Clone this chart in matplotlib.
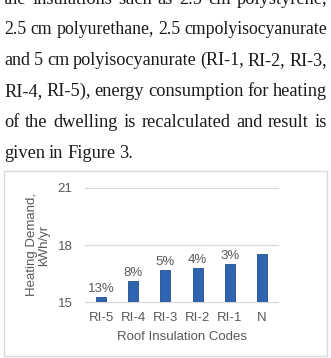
import numpy as np
import matplotlib
matplotlib.use("Agg")
from matplotlib import pyplot as plt
from matplotlib.patches import Rectangle

# chart data
codes = ['RI-5', 'RI-4', 'RI-3', 'RI-2', 'RI-1', 'N']
demand = [15.28, 16.12, 16.68, 16.80, 17.00, 17.55]
savings = ['13%', '8%', '5%', '4%', '3%', '']
yticks = [15, 18, 21]

# paragraph above the figure
para = ["the insulations such as 2.5 cm polystyrene,",
        "2.5 cm polyurethane, 2.5 cmpolyisocyanurate",
        "and 5 cm polyisocyanurate (RI-1, RI-2, RI-3,",
        "RI-4, RI-5), energy consumption for heating",
        "of the dwelling is recalculated and result is",
        "given in Figure 3."]

W, H = 331, 358
fig = plt.figure(figsize=(W/100, H/100), dpi=100)
fig.patch.set_facecolor('white')
renderer = fig.canvas.get_renderer()

# justified serif text, placed word by word
left, right = 4, 327
base = [4, 34, 65, 96, 127, 158]
min_gap = 3.6
for i, line in enumerate(para):
	words = line.split(' ')
	size = 13.2
	texts = [fig.text(0, 0, w, fontsize=size, family='Liberation Serif',
	                  color='#1a1a1a', va='baseline', ha='left') for w in words]
	widths = [t.get_window_extent(renderer).width for t in texts]
	room = right - left - min_gap * (len(words) - 1)
	if sum(widths) > room:
		# line too long: shrink this line a little so spaces stay visible
		size = size * room / sum(widths)
		for t in texts:
			t.set_fontsize(size)
		widths = [t.get_window_extent(renderer).width for t in texts]
	if i < len(para) - 1:
		gap = (right - left - sum(widths)) / (len(words) - 1)
	else:
		gap = 4.0
	x = left
	for t, w in zip(texts, widths):
		t.set_position((x / W, 1 - base[i] / H))
		x += w + gap

# chart frame
fig.add_artist(Rectangle((4/W, 1 - 356/H), 323/W, (356 - 171)/H,
                         transform=fig.transFigure, fill=False,
                         ec='#d9d9d9', lw=1))

grey = '#595959'
ax = fig.add_axes([85/W, 1 - 302.3/H, 193/W, 114.3/H])
x = np.arange(len(codes))
bars = ax.bar(x, demand, width=0.31, color='#2F64B1', edgecolor='#224C8E', lw=0.6, zorder=3)

for i, b in enumerate(bars):
	ax.annotate(savings[i], (x[i], demand[i]), xytext=(0, 1.5), textcoords='offset points',
	            ha='center', va='bottom', fontsize=9.5, color=grey, family='Liberation Sans')

ax.set_ylim(15, 21)
ax.set_xlim(-0.5, len(codes) - 0.5)
ax.set_yticks(yticks)
ax.set_xticks(x)
ax.set_xticklabels(codes)
for s in ax.spines.values():
	s.set_visible(False)
for yv in yticks:
	ax.axhline(yv, color='#d9d9d9', lw=0.9, clip_on=False, zorder=1)
ax.tick_params(length=0, labelsize=9.5, labelcolor=grey)
ax.tick_params(axis='y', pad=9)
ax.tick_params(axis='x', pad=7)
for lab in ax.get_xticklabels() + ax.get_yticklabels():
	lab.set_family('Liberation Sans')

ax.set_xlabel('Roof Insulation Codes', fontsize=9.5, color=grey, family='Liberation Sans', labelpad=5)
fig.text(38/W, 1 - 245/H, 'Heating Demand,\nkWh/yr', rotation=90, ha='center', va='center',
         multialignment='center', fontsize=9.5, color=grey, family='Liberation Sans', linespacing=1.0)

fig.savefig('out.png', dpi=100, facecolor='white')
